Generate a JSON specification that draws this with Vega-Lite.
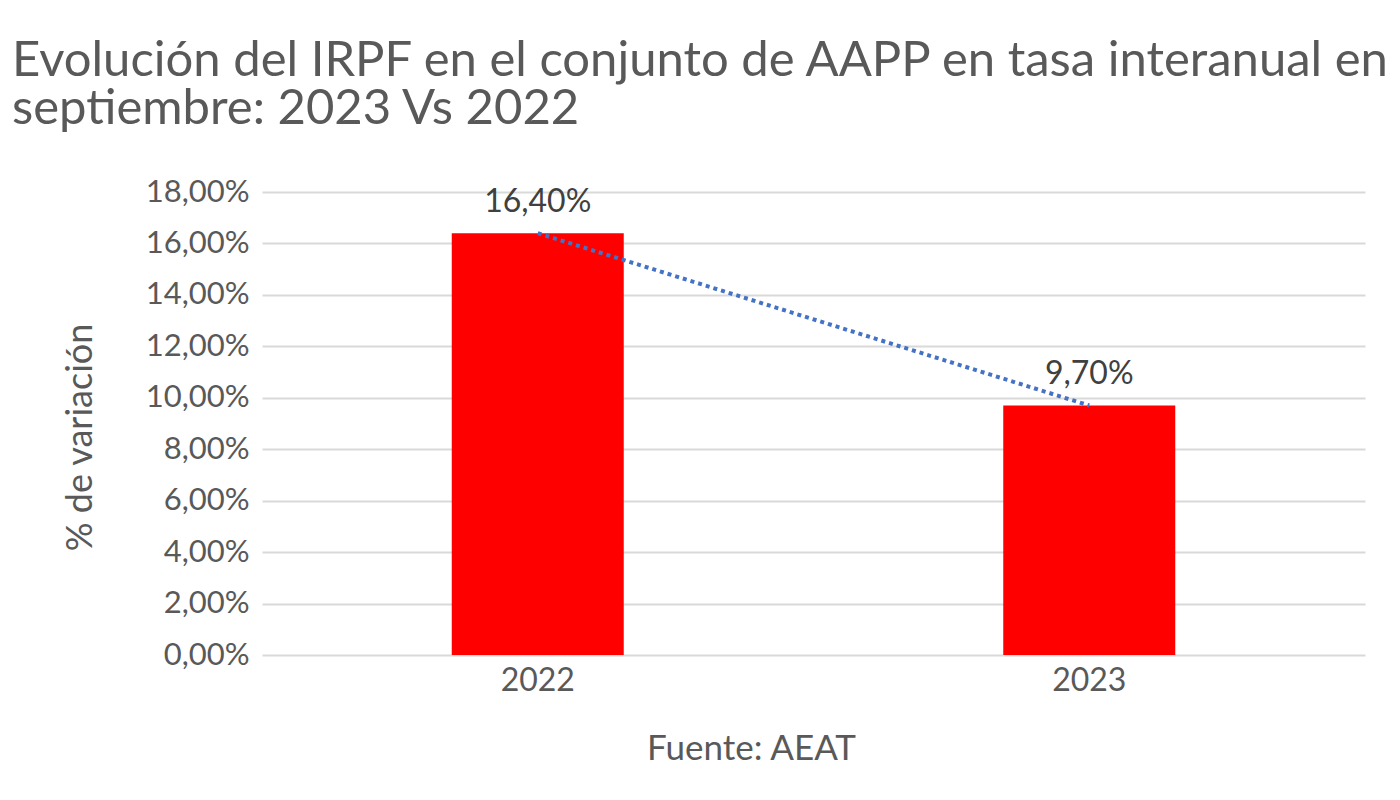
{
  "$schema": "https://vega.github.io/schema/vega-lite/v6.json",
  "width": 1103,
  "height": 463,
  "autosize": {"type": "none"},
  "padding": {"left": 262, "top": 192, "right": 35, "bottom": 145},
  "background": "white",
  "config": {
    "locale": {"number": {"decimal": ",", "thousands": ".", "grouping": [3], "currency": ["", " €"]}},
    "font": "Lato",
    "view": {"stroke": null},
    "axis": {"labelColor": "#595959", "titleColor": "#595959", "labelFont": "Lato", "titleFont": "Lato"}
  },
  "title": {
    "text": ["Evolución del IRPF en el conjunto de AAPP en tasa interanual en", "septiembre: 2023 Vs 2022"],
    "anchor": "start",
    "frame": "group",
    "dx": -250,
    "offset": 3,
    "fontSize": 49,
    "lineHeight": 48,
    "fontWeight": "normal",
    "color": "#595959",
    "font": "Lato",
    "baseline": "alphabetic"
  },
  "data": {"values": [
    {"year": "2022", "value": 0.164},
    {"year": "2023", "value": 0.097}
  ]},
  "encoding": {
    "x": {
      "field": "year", "type": "nominal",
      "scale": {"paddingInner": 0, "paddingOuter": 0},
      "axis": {
        "title": "Fuente: AEAT", "labelAngle": 0, "labelFontSize": 32, "labelPadding": 10,
        "ticks": false, "domain": false, "titleFontSize": 35, "titleFontWeight": "normal",
        "titleX": 489, "titleY": 93, "titleBaseline": "middle", "titleAlign": "center"
      }
    },
    "y": {
      "field": "value", "type": "quantitative",
      "scale": {"domain": [0, 0.18]},
      "axis": {
        "title": "% de variación", "format": ".2%", "values": [0, 0.02, 0.04, 0.06, 0.08, 0.1, 0.12, 0.14, 0.16, 0.18],
        "labelFontSize": 31, "labelPadding": 13, "ticks": false, "domain": false,
        "gridColor": "#d9d9d9", "gridWidth": 2,
        "titleFontSize": 36, "titleFontWeight": "normal", "titleX": -182, "titleY": 245, "titleBaseline": "middle", "titleAlign": "center"
      }
    }
  },
  "layer": [
    {"mark": {"type": "bar", "color": "#ff0000", "size": 172}},
    {"mark": {"type": "line", "color": "#4472c4", "strokeWidth": 4, "strokeDash": [4, 4]}},
    {
      "mark": {"type": "text", "fontSize": 32, "color": "#404040", "baseline": "alphabetic", "dy": -21, "font": "Lato"},
      "encoding": {"text": {"field": "value", "type": "quantitative", "format": ".2%"}}
    }
  ]
}
